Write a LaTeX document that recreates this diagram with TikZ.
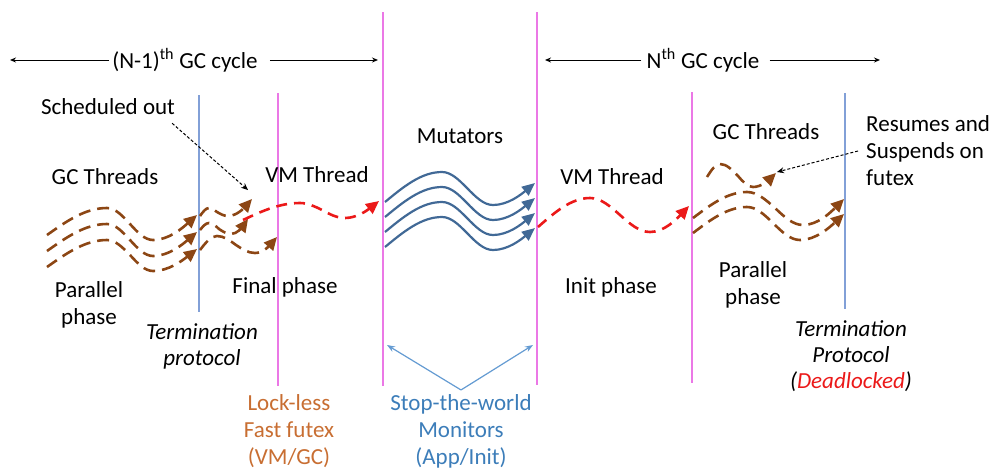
\documentclass[tikz,border=0pt]{standalone}
\usepackage{fontspec}
\setmainfont{Carlito}
\usetikzlibrary{arrows.meta}
\definecolor{gcbrown}{RGB}{140,70,20}
\definecolor{vmred}{RGB}{235,25,25}
\definecolor{mutblue}{RGB}{65,105,150}
\definecolor{stwpink}{RGB}{235,120,230}
\definecolor{termblue}{RGB}{130,160,215}
\definecolor{lockorange}{RGB}{200,110,50}
\definecolor{monblue}{RGB}{60,125,185}
\definecolor{monarrow}{RGB}{100,155,210}

\begin{document}
\begin{tikzpicture}[
  x=1pt, y=-1pt,
  lbl/.style={font=\fontsize{23}{27}\selectfont, align=center, inner sep=0pt},
  ilbl/.style={lbl, font=\fontsize{23}{26}\selectfont\itshape},
  gcw/.style={gcbrown, line width=2.6pt, dash pattern=on 12pt off 7pt,
              -{Triangle[length=13pt,width=12pt]}},
  vmw/.style={vmred, line width=2.6pt, dash pattern=on 11pt off 7pt,
              -{Triangle[length=13pt,width=12pt]}},
  mut/.style={mutblue, line width=2.2pt, -{Triangle[length=13pt,width=11pt]}},
  stw/.style={stwpink, line width=2.4pt},
  term/.style={termblue, line width=2pt},
  cyc/.style={black, line width=1pt, -{Stealth[length=6pt,width=5pt]}},
  ptr/.style={black, line width=1pt, dash pattern=on 3pt off 2pt,
              -{Stealth[length=7pt,width=6pt]}},
  mon/.style={monarrow, line width=1.2pt, -{Stealth[length=8pt,width=6pt]}}
]
  \useasboundingbox (0,0) rectangle (993,475);

  % Phase boundaries
  \draw[term] (199,95)  coordinate (t1top) -- (199,312) coordinate (t1bot);
  \draw[stw]  (278,93)  coordinate (s1top) -- (278,386) coordinate (s1bot);
  \draw[stw]  (383,12)  coordinate (s2top) -- (383,386) coordinate (s2bot);
  \draw[stw]  (537,12)  coordinate (s3top) -- (537,385) coordinate (s3bot);
  \draw[stw]  (692,92)  coordinate (s4top) -- (692,383) coordinate (s4bot);
  \draw[term] (845,93)  coordinate (t2top) -- (845,309) coordinate (t2bot);

  % GC cycles
  \node[lbl] (prevcyc) at (185,60) {(N-1)\textsuperscript{th} GC cycle};
  \coordinate (prevL) at (10,60);
  \coordinate (prevR) at (378,60);
  \draw[cyc] ([xshift=-3pt]prevcyc.west) -- (prevL);
  \draw[cyc] ([xshift=12pt]prevcyc.east) -- (prevR);
  \node[lbl] (nextcyc) at (703,60) {N\textsuperscript{th} GC cycle};
  \coordinate (nextL) at (545,60);
  \coordinate (nextR) at (880,60);
  \draw[cyc] ([xshift=-5pt]nextcyc.west) -- (nextL);
  \draw[cyc] ([xshift=10pt]nextcyc.east) -- (nextR);

  % Previous cycle: GC threads
  \draw[gcw] (47,235) sin (107,208) cos (130,224) sin (153,240) cos (197,215);
  \draw[gcw] (47,251) sin (107,224) cos (130,240) sin (153,256) cos (197,232);
  \draw[gcw] (47,267) sin (107,240) cos (130,255) sin (153,271) cos (197,249);
  \draw[gcw] (200,216) sin (209,208) cos (217,212) sin (228,216) cos (252,199);
  \draw[gcw] (200,230) sin (209,223) cos (219,229) sin (231,234) cos (248,219);
  \draw[gcw] (200,250) sin (217,236) cos (236,245) sin (255,253) cos (277,237);

  % Previous cycle: VM thread
  \draw[vmw] (243,220) sin (300,203) cos (322,210) sin (345,218) cos (379,201);

  % Mutators
  \draw[mut] (385,202) sin (442,172) cos (467,188) sin (493,205) cos (535,183);
  \draw[mut] (385,217) sin (442,187) cos (467,203) sin (493,220) cos (535,198);
  \draw[mut] (385,232) sin (442,202) cos (467,218) sin (493,235) cos (535,213);
  \draw[mut] (385,247) sin (442,217) cos (467,233) sin (493,250) cos (535,228);

  % Next cycle: VM thread
  \draw[vmw] (538,227) sin (590,198) cos (620,215) sin (650,232) cos (689,206);

  % Next cycle: GC threads
  \draw[gcw] (707,177) sin (720,164) cos (738,176) sin (753,187) cos (776,173);
  \draw[gcw] (693,218) sin (747,192) cos (775,208) sin (803,225) cos (844,199);
  \draw[gcw] (693,233) sin (747,207) cos (773,223) sin (800,240) cos (844,214);

  % Labels
  \node[lbl] (sched)    at (108,107) {Scheduled out};
  \node[lbl] (gcprev)   at (105,177) {GC Threads};
  \node[lbl] (vmprev)   at (317,175) {VM Thread};
  \node[lbl] (parprev)  at (89,305)  {Parallel\\phase};
  \node[lbl] (finalph)  at (285,287) {Final phase};
  \node[ilbl] (termprev) at (202,346) {Termination\\protocol};
  \node[lbl] (mutlbl)   at (460,136) {Mutators};
  \node[lbl] (vmnext)   at (612,177) {VM Thread};
  \node[lbl] (initph)   at (611,287) {Init phase};
  \node[lbl] (gcnext)   at (766,132) {GC Threads};
  \node[lbl, align=left, anchor=west] (resumes) at (866,151)
        {Resumes and\\Suspends on\\futex};
  \node[lbl] (parnext)  at (753,285) {Parallel\\phase};
  \node[ilbl] (termnext) at (851,356)
        {Termination\\Protocol\\(\textcolor{vmred}{Deadlocked})};
  \node[lbl, text=lockorange] (lockless) at (289,431)
        {Lock-less\\Fast futex\\(VM/GC)};
  \node[lbl, text=monblue] (stwmon) at (461,431)
        {Stop-the-world\\Monitors\\(App/Init)};

  % Pointers
  \coordinate (schedtip) at (248,190);
  \draw[ptr] ([shift={(-3pt,-8pt)}]sched.south east) -- (schedtip);
  \coordinate (resumetip) at (777,172);
  \draw[ptr] ([xshift=-8pt]resumes.west) -- (resumetip);
  \coordinate (monL) at (387,345);
  \coordinate (monR) at (533,345);
  \draw[mon] ([yshift=4pt]stwmon.north) -- (monL);
  \draw[mon] ([yshift=4pt]stwmon.north) -- (monR);
\end{tikzpicture}
\end{document}
